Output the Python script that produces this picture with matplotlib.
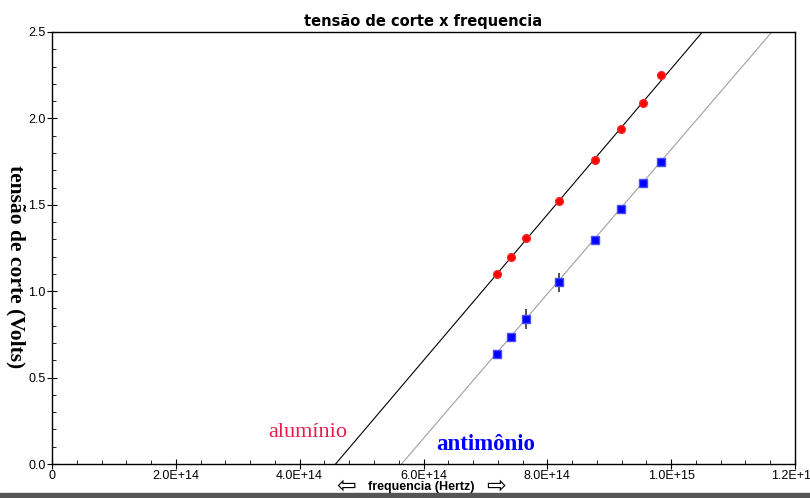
import numpy as np
import matplotlib
matplotlib.use("Agg")
import matplotlib.pyplot as plt
from matplotlib.ticker import MultipleLocator, FuncFormatter

# dados
freq = [7.18e14, 7.42e14, 7.66e14, 8.19e14, 8.77e14, 9.19e14, 9.55e14, 9.84e14]
v_aluminio = [1.10, 1.20, 1.31, 1.52, 1.76, 1.94, 2.09, 2.25]
v_antimonio = [0.637, 0.735, 0.84, 1.053, 1.296, 1.476, 1.626, 1.748]
err_antimonio = [0, 0, 0.058, 0.055, 0, 0, 0, 0]

# retas ajustadas: V = h/e * (f - f0)
f0_aluminio, h_aluminio = 4.58e14, 4.22e-15
f0_antimonio, h_antimonio = 5.645e14, 4.18e-15

fig = plt.figure(figsize=(8.1, 4.98), dpi=100)
ax = fig.add_axes([52/810, 34/498, 743/810, 432/498])

f_al = np.array([f0_aluminio, 1.2e15])
f_sb = np.array([f0_antimonio, 1.2e15])
ax.plot(f_al, h_aluminio*(f_al - f0_aluminio), color='black', lw=0.8, zorder=2)
ax.plot(f_sb, h_antimonio*(f_sb - f0_antimonio), color='#a0a0a0', lw=0.8, zorder=2)

ax.plot(freq, v_aluminio, 'o', color='#ff0000', markersize=5.5, markeredgecolor='#ff2020', zorder=3)
ax.errorbar(freq, v_antimonio, yerr=err_antimonio, fmt='none', ecolor='#333333', elinewidth=1.2, capsize=0, zorder=3)
ax.plot(freq, v_antimonio, 's', color='#0000ff', markersize=5.5, markeredgecolor='#4a4aff', zorder=4)

ax.set_xlim(0, 1.2e15)
ax.set_ylim(0, 2.5)
ax.xaxis.set_major_locator(MultipleLocator(2e14))
ax.xaxis.set_minor_locator(MultipleLocator(4e13))
ax.yaxis.set_major_locator(MultipleLocator(0.5))
ax.yaxis.set_minor_locator(MultipleLocator(0.1))

def fmt_x(v, pos):
    if v == 0:
        return '0'
    m, e = ('%.1E' % v).split('E')
    return m + 'E+' + str(int(e))

ax.xaxis.set_major_formatter(FuncFormatter(fmt_x))
ax.yaxis.set_major_formatter(FuncFormatter(lambda v, p: '%.1f' % v))
ax.tick_params(which='major', direction='inout', length=7, width=0.8, pad=1)
ax.tick_params(which='minor', direction='in', length=3, width=0.6)
for lab in ax.get_xticklabels() + ax.get_yticklabels():
    lab.set_family('Liberation Sans')
    lab.set_fontsize(9)
for s in ax.spines.values():
    s.set_linewidth(1.0)

ax.set_title('tensão de corte x frequencia', fontsize=10.5, fontweight='bold', pad=4)

# rotulo do eixo x com setas vazadas
fig.text(421/810, 1 - 487/498, 'frequencia (Hertz)', fontsize=9, fontweight='bold',
         family='Liberation Sans', ha='center', va='center')
fig.text(346/810, 1 - 486/498, '⇦', fontsize=17, ha='center', va='center')
fig.text(496/810, 1 - 486/498, '⇨', fontsize=17, ha='center', va='center')

fig.text(16/810, 1 - 267/498, 'tensão de corte (Volts)', fontsize=15.5, fontweight='bold',
         family='Liberation Serif', rotation=270, ha='center', va='center')

ax.text(3.5e14, 0.155, 'alumínio', color='#e8194a', fontsize=16,
        family='Liberation Serif')
ax.text(6.2e14, 0.08, 'antimônio', color='#0000ff', fontsize=16.5,
        fontweight='bold', family='Liberation Serif')

fig.patches.append(plt.Rectangle((0, 0), 1, 5/498, transform=fig.transFigure,
                                 color='#555555', zorder=5))

fig.savefig('out.png', dpi=100)
